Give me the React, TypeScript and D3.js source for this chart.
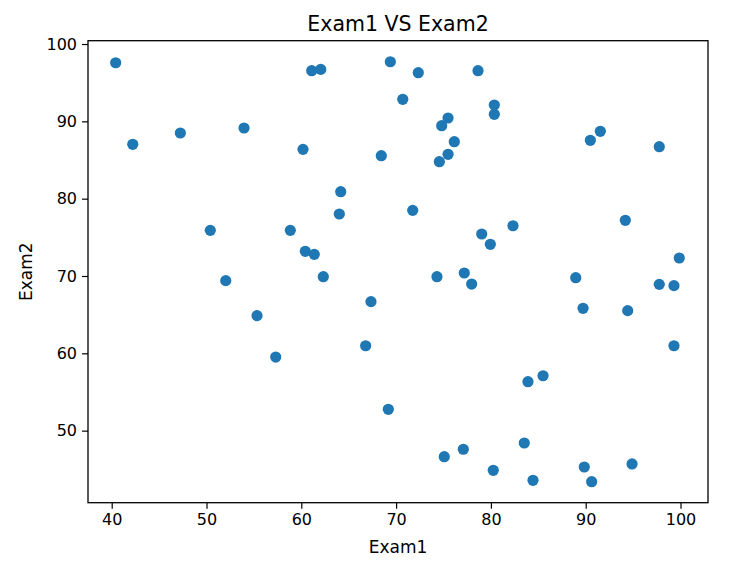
import React, { useEffect, useRef } from "react";
import * as d3 from "d3";

const exam1: number[] = [
  40.42, 42.22, 47.24, 53.96, 60.18, 61.1, 62.05, 69.39, 70.7, 68.44,
  64.16, 64.01, 50.4, 58.84, 60.42, 61.37, 52.03, 62.32, 55.33, 57.3,
  67.35, 66.79, 69.18, 72.34, 78.64, 80.36, 80.36, 75.48, 74.81, 76.14,
  75.48, 74.56, 90.49, 91.54, 97.76, 71.75, 82.33, 79.03, 79.94, 94.18,
  99.87, 74.31, 77.19, 77.97, 88.95, 89.72, 94.43, 97.76, 99.31, 99.31,
  83.91, 85.5, 75.08, 77.09, 83.52, 80.25, 84.44, 89.85, 90.63, 94.89,
];
const exam2: number[] = [
  97.58, 87.03, 88.49, 89.14, 86.38, 96.55, 96.72, 97.71, 92.85, 85.56,
  80.9, 78.02, 75.9, 75.9, 73.19, 72.8, 69.4, 69.91, 64.87, 59.52,
  66.68, 60.98, 52.76, 96.29, 96.55, 92.11, 90.91, 90.43, 89.44, 87.37,
  85.74, 84.78, 87.55, 88.71, 86.72, 78.49, 76.5, 75.43, 74.1, 77.2,
  72.33, 69.91, 70.39, 68.96, 69.78, 65.82, 65.52, 68.92, 68.75, 60.98,
  56.33, 57.1, 46.63, 47.59, 48.4, 44.87, 43.58, 45.3, 43.4, 45.69,
];
const xTicks: number[] = [40, 50, 60, 70, 80, 90, 100];
const yTicks: number[] = [50, 60, 70, 80, 90, 100];
const title = "Exam1 VS Exam2";
const xLabel = "Exam1";
const yLabel = "Exam2";

export default function App() {
  const ref = useRef<SVGSVGElement>(null);
  useEffect(() => {
    const W = 732, H = 578;
    const L = 88, R = 708, T = 40.7, B = 502.7;
    const svg = d3.select(ref.current!);
    svg.selectAll("*").remove();
    const font = "DejaVu Sans";
    const x = d3.scaleLinear().domain([37.5, 102.9]).range([L, R]);
    const y = d3.scaleLinear().domain([40.68, 100.43]).range([B, T]);

    svg.append("rect").attr("width", W).attr("height", H).attr("fill", "#fff");

    const pts = exam1.map((v, i) => [v, exam2[i]]);
    svg.append("g").selectAll("circle").data(pts).join("circle")
      .attr("cx", d => x(d[0])).attr("cy", d => y(d[1])).attr("r", 5.6)
      .attr("fill", "#1f77b4");

    const xAxis = svg.append("g").attr("transform", `translate(0,${B})`)
      .call(d3.axisBottom(x).tickValues(xTicks).tickSize(6).tickPadding(5).tickFormat(d3.format("d")));
    const yAxis = svg.append("g").attr("transform", `translate(${L},0)`)
      .call(d3.axisLeft(y).tickValues(yTicks).tickSize(6).tickPadding(5).tickFormat(d3.format("d")));
    [xAxis, yAxis].forEach(a => {
      a.select(".domain").remove();
      a.selectAll("line").attr("stroke", "#000").attr("stroke-width", 1.2);
      a.selectAll("text").attr("font-family", font).attr("font-size", 16).attr("fill", "#000");
    });

    svg.append("rect").attr("x", L).attr("y", T).attr("width", R - L).attr("height", B - T)
      .attr("fill", "none").attr("stroke", "#000").attr("stroke-width", 1.3);

    svg.append("text").attr("x", (L + R) / 2).attr("y", 31).attr("text-anchor", "middle")
      .attr("font-family", font).attr("font-size", 20.5).attr("fill", "#000").text(title);
    svg.append("text").attr("x", (L + R) / 2).attr("y", 553).attr("text-anchor", "middle")
      .attr("font-family", font).attr("font-size", 17).attr("fill", "#000").text(xLabel);
    svg.append("text").attr("transform", `translate(32,${(T + B) / 2}) rotate(-90)`)
      .attr("text-anchor", "middle")
      .attr("font-family", font).attr("font-size", 17).attr("fill", "#000").text(yLabel);
  }, []);
  return (
    <svg ref={ref} width={732} height={578}
      style={{ position: "absolute", left: 0, top: 0, display: "block" }} />
  );
}
